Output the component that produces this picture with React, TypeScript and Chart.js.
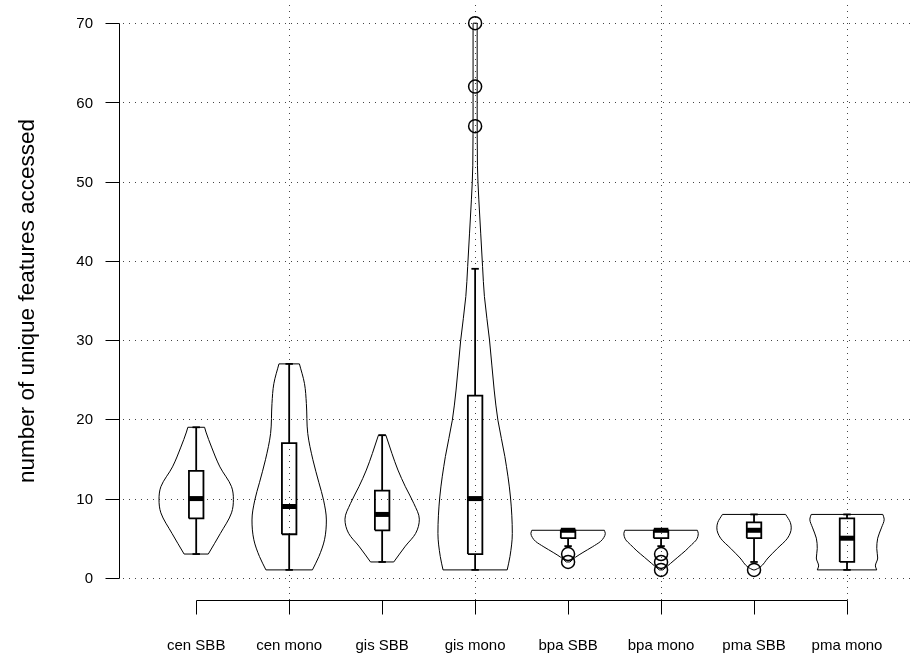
import React, { useEffect, useRef } from 'react';
import { Chart, registerables } from 'chart.js';

Chart.register(...registerables);

// ---- data ----
const categories = ['cen SBB', 'cen mono', 'gis SBB', 'gis mono', 'bpa SBB', 'bpa mono', 'pma SBB', 'pma mono'];
const yTicks = [0, 10, 20, 30, 40, 50, 60, 70];
const xGridAt = [2, 4, 6, 8];
const yTitle = 'number of unique features accessed';

// violin outlines: levels (value) and half-widths (in category units)
const cenSBBLevels = [3, 5.6, 8.2, 9.9, 11.5, 14, 16.5, 18.4, 19];
const cenSBBWidths = [0.13, 0.26, 0.38, 0.4, 0.38, 0.255, 0.165, 0.105, 0.09];
const cenMonoLevels = [1, 2.7, 4.8, 7.3, 9.8, 12, 14.9, 18.2, 22, 24.5, 27];
const cenMonoWidths = [0.25, 0.32, 0.38, 0.4, 0.37, 0.32, 0.255, 0.2, 0.185, 0.165, 0.11];
const gisSBBLevels = [2, 4, 5.6, 7.4, 9.4, 11.5, 13.6, 15.7, 18];
const gisSBBWidths = [0.125, 0.25, 0.36, 0.4, 0.34, 0.25, 0.17, 0.105, 0.04];
const gisMonoLevels = [1, 2.7, 5.6, 10.2, 15.3, 19.9, 23.7, 30, 35.5, 39.3, 43.5, 47.7, 52, 60, 70];
const gisMonoWidths = [0.345, 0.375, 0.4, 0.38, 0.32, 0.245, 0.205, 0.155, 0.1, 0.08, 0.06, 0.04, 0.025, 0.022, 0.022];
const bpaSBBLevels = [2, 2.6, 3.2, 3.9, 4.6, 5.1, 5.6, 6];
const bpaSBBWidths = [0.02, 0.08, 0.16, 0.26, 0.35, 0.385, 0.4, 0.39];
const bpaMonoLevels = [1, 1.8, 2.6, 3.4, 4.2, 4.8, 5.6, 6];
const bpaMonoWidths = [0.02, 0.1, 0.18, 0.26, 0.33, 0.38, 0.4, 0.39];
const pmaSBBLevels = [1, 1.3, 2.5, 3.7, 5, 6.3, 7, 8];
const pmaSBBWidths = [0.01, 0.06, 0.15, 0.25, 0.36, 0.4, 0.39, 0.34];
const pmaMonoLevels = [1, 1.5, 2.5, 3.7, 5, 6.3, 7.4, 8];
const pmaMonoWidths = [0.32, 0.305, 0.33, 0.32, 0.33, 0.37, 0.4, 0.385];

const violinLevels = [cenSBBLevels, cenMonoLevels, gisSBBLevels, gisMonoLevels, bpaSBBLevels, bpaMonoLevels, pmaSBBLevels, pmaMonoLevels];
const violinWidths = [cenSBBWidths, cenMonoWidths, gisSBBWidths, gisMonoWidths, bpaSBBWidths, bpaMonoWidths, pmaSBBWidths, pmaMonoWidths];

// box-plot statistics
const whiskerLow = [3, 1, 2, 1, 4, 4, 2, 1];
const quartile1 = [7.5, 5.5, 6, 3, 5, 5, 5, 2];
const medians = [10, 9, 8, 10, 6, 6, 6, 5];
const quartile3 = [13.5, 17, 11, 23, 6, 6, 7, 7.5];
const whiskerHigh = [19, 27, 18, 39, 6, 6, 8, 8];
const outliers = [[], [], [], [57, 62, 70], [3, 2], [3, 2, 1], [1], []];

// ---- styling ----
const BOX_HALF = 0.078;
const CAP_HALF = 0.04;
const FONT = '"Liberation Sans", Arial, Helvetica, sans-serif';

const lineDs = (data: any[], width: number, extra: any = {}) => ({
  data,
  borderColor: '#000',
  borderWidth: width,
  pointRadius: 0,
  pointHoverRadius: 0,
  fill: false,
  tension: 0,
  borderCapStyle: 'butt',
  borderJoinStyle: 'miter',
  ...extra,
});

function buildDatasets() {
  const ds: any[] = [];
  categories.forEach((_, i) => {
    const c = i + 1;
    const lv = violinLevels[i];
    const w = violinWidths[i];
    const n = lv.length;
    const left = lv.map((v, k) => ({ x: c - w[k], y: v }));
    const right = lv.map((v, k) => ({ x: c + w[k], y: v }));
    ds.push(lineDs(left, 1, { cubicInterpolationMode: 'monotone' }));
    ds.push(lineDs(right, 1, { cubicInterpolationMode: 'monotone' }));
    ds.push(lineDs([{ x: c - w[n - 1], y: lv[n - 1] }, { x: c + w[n - 1], y: lv[n - 1] }], 1));
    ds.push(lineDs([{ x: c - w[0], y: lv[0] }, { x: c + w[0], y: lv[0] }], 1));
    // whiskers
    ds.push(lineDs([{ x: c, y: whiskerLow[i] }, { x: c, y: quartile1[i] }], 1.8));
    ds.push(lineDs([{ x: c, y: quartile3[i] }, { x: c, y: whiskerHigh[i] }], 1.8));
    // staples
    ds.push(lineDs([{ x: c - CAP_HALF, y: whiskerLow[i] }, { x: c + CAP_HALF, y: whiskerLow[i] }], 1.8));
    ds.push(lineDs([{ x: c - CAP_HALF, y: whiskerHigh[i] }, { x: c + CAP_HALF, y: whiskerHigh[i] }], 1.8));
    // box
    ds.push(
      lineDs(
        [
          { x: c - BOX_HALF, y: quartile1[i] },
          { x: c + BOX_HALF, y: quartile1[i] },
          { x: c + BOX_HALF, y: quartile3[i] },
          { x: c - BOX_HALF, y: quartile3[i] },
          { x: c - BOX_HALF, y: quartile1[i] },
        ],
        1.8
      )
    );
    // median
    ds.push(lineDs([{ x: c - BOX_HALF, y: medians[i] }, { x: c + BOX_HALF, y: medians[i] }], 5));
    // outliers
    if (outliers[i].length) {
      ds.push({
        data: outliers[i].map((v) => ({ x: c, y: v })),
        showLine: false,
        pointStyle: 'circle',
        pointRadius: 6.5,
        pointHoverRadius: 6.5,
        pointBorderWidth: 1.5,
        pointBorderColor: '#000',
        pointBackgroundColor: 'rgba(0,0,0,0)',
        borderColor: '#000',
        backgroundColor: 'rgba(0,0,0,0)',
      });
    }
  });
  return ds;
}

const rStylePlugin = {
  id: 'rStyle',
  beforeDatasetsDraw(chart: any) {
    const { ctx, chartArea: a, scales } = chart;
    const x = scales.x;
    const y = scales.y;
    ctx.save();
    ctx.strokeStyle = '#444';
    ctx.lineWidth = 1;
    ctx.setLineDash([1, 5]);
    yTicks.forEach((v) => {
      const py = Math.round(y.getPixelForValue(v)) + 0.5;
      ctx.beginPath();
      ctx.moveTo(a.left + 3, py);
      ctx.lineTo(a.right, py);
      ctx.stroke();
    });
    xGridAt.forEach((v) => {
      const px = Math.round(x.getPixelForValue(v)) + 0.5;
      ctx.beginPath();
      ctx.moveTo(px, a.top + 4);
      ctx.lineTo(px, a.bottom);
      ctx.stroke();
    });
    ctx.restore();
  },
  afterDraw(chart: any) {
    const { ctx, chartArea: a, scales } = chart;
    const x = scales.x;
    const y = scales.y;
    ctx.save();
    ctx.setLineDash([]);
    ctx.strokeStyle = '#000';
    ctx.fillStyle = '#000';
    ctx.lineWidth = 1;
    // y axis
    const ax = Math.round(a.left) - 0.5;
    const y0 = Math.round(y.getPixelForValue(yTicks[0])) + 0.5;
    const y1 = Math.round(y.getPixelForValue(yTicks[yTicks.length - 1])) + 0.5;
    ctx.beginPath();
    ctx.moveTo(ax, y0);
    ctx.lineTo(ax, y1);
    yTicks.forEach((v) => {
      const py = Math.round(y.getPixelForValue(v)) + 0.5;
      ctx.moveTo(ax - 14, py);
      ctx.lineTo(ax, py);
    });
    ctx.stroke();
    ctx.font = `15px ${FONT}`;
    ctx.textAlign = 'right';
    ctx.textBaseline = 'middle';
    yTicks.forEach((v) => {
      ctx.fillText(String(v), 93, y.getPixelForValue(v) + 1);
    });
    // x axis
    const ay = Math.round(a.bottom) + 0.5;
    const x0 = Math.round(x.getPixelForValue(1)) + 0.5;
    const x1 = Math.round(x.getPixelForValue(categories.length)) + 0.5;
    ctx.beginPath();
    ctx.moveTo(x0, ay);
    ctx.lineTo(x1, ay);
    categories.forEach((_, i) => {
      const px = Math.round(x.getPixelForValue(i + 1)) + 0.5;
      ctx.moveTo(px, ay);
      ctx.lineTo(px, ay + 14);
    });
    ctx.stroke();
    ctx.textAlign = 'center';
    ctx.textBaseline = 'middle';
    categories.forEach((lab, i) => {
      ctx.fillText(lab, x.getPixelForValue(i + 1), 646);
    });
    // y title
    ctx.font = `22.5px ${FONT}`;
    ctx.translate(28, (y0 + y1) / 2);
    ctx.rotate(-Math.PI / 2);
    ctx.fillText(yTitle, 0, 0);
    ctx.restore();
  },
};

export default function App() {
  const ref = useRef<HTMLCanvasElement | null>(null);
  useEffect(() => {
    if (!ref.current) return;
    const chart = new Chart(ref.current, {
      type: 'line',
      data: { datasets: buildDatasets() },
      options: {
        animation: false,
        responsive: false,
        devicePixelRatio: 1,
        indexAxis: 'y',
        events: [],
        layout: { autoPadding: false, padding: { left: 120, right: 0, top: 1, bottom: 60 } },
        scales: {
          x: { type: 'linear', display: false, min: 0.1804, max: 8.699 },
          y: { type: 'linear', display: false, min: -2.8, max: 72.8 },
        },
        plugins: { legend: { display: false }, tooltip: { enabled: false } },
      } as any,
      plugins: [rStylePlugin],
    });
    return () => chart.destroy();
  }, []);
  return (
    <div style={{ position: 'absolute', left: 0, top: 0, width: 912, height: 660, background: '#fff' }}>
      <canvas ref={ref} width={912} height={660} style={{ display: 'block' }} />
    </div>
  );
}
